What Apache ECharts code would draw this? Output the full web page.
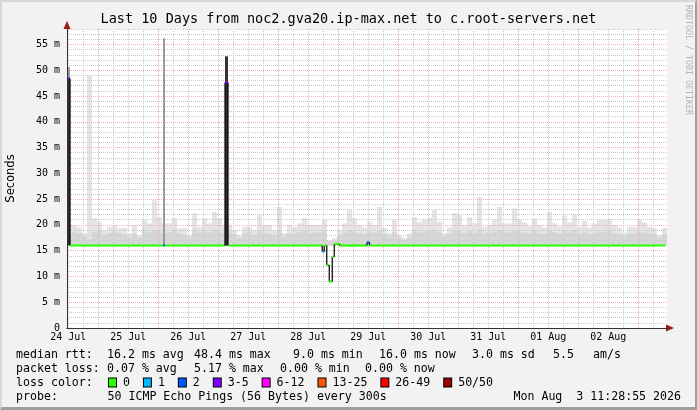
<!DOCTYPE html>
<html><head><meta charset="utf-8">
<script src="https://cdn.jsdelivr.net/npm/echarts@6/dist/echarts.min.js"></script>
<style>
html,body{margin:0;padding:0;background:#f2f2f2}
#wrap{position:relative;width:697px;height:410px}
#c{width:697px;height:410px}
#frame{position:absolute;left:0;top:0;width:697px;height:410px;box-sizing:border-box;border-top:2px solid #d8d8d8;border-left:2px solid #d8d8d8;border-right:2px solid #9e9e9e;border-bottom:3px solid #9e9e9e;pointer-events:none}
</style>
</head><body>
<div id="wrap"><div id="c"></div><div id="frame"></div></div>
<script>
// ---------- data ----------
const titleText = 'Last 10 Days from noc2.gva20.ip-max.net to c.root-servers.net';
const dayLabels = ['24 Jul','25 Jul','26 Jul','27 Jul','28 Jul','29 Jul','30 Jul','31 Jul','01 Aug','02 Aug'];
const startHourOfDay = 11.5;   // graph starts Jul 24 ~11:29
const spanHours = 240;         // 10 days
const bucketHours = 2;         // smoke resolution used here
const yMax = 58;               // ms

// smoke (ping spread) per 2-hour bucket, ms
const smokeFloor = 16.0;
const smokeTop = [
  20.0,19.9,19.5,18.4,49.0,21.3,20.6,19.0,19.6,20.0,
  19.4,19.4,18.4,20.0,18.0,21.0,20.3,24.8,21.5,20.3,
  20.3,21.3,19.4,19.4,18.0,22.3,19.6,21.3,20.3,22.5,
  21.3,20.0,20.0,19.0,18.0,19.6,19.6,19.0,21.9,20.0,
  20.0,19.0,23.5,18.4,20.0,19.6,20.3,21.3,20.0,20.0,
  20.0,21.0,17.0,17.5,19.0,20.3,22.9,21.3,20.0,19.5,
  20.6,20.0,23.5,19.4,18.4,21.0,18.0,17.5,18.4,21.5,
  20.6,21.0,21.3,22.9,20.6,18.4,19.5,22.3,21.9,20.0,
  21.5,20.3,25.4,19.6,20.0,21.0,23.5,20.3,20.3,23.2,
  21.0,20.5,19.8,21.2,20.0,19.5,22.5,20.4,19.7,21.8,
  20.5,22.0,19.6,20.8,19.5,20.2,21.0,21.0,21.2,20.0,
  19.5,18.5,19.6,19.6,21.0,20.5,19.6,19.4,18.0,19.4
];
const smokeMid = [
  18.2,18.6,18.4,17.8,17.2,18.6,18.8,18.0,18.4,18.7,
  18.5,18.2,17.6,18.3,17.5,18.9,18.6,19.0,18.8,18.4,
  18.6,19.0,18.3,18.0,17.4,18.9,18.5,18.8,18.6,19.1,
  18.7,18.4,18.5,18.2,17.5,18.4,18.6,18.1,18.9,18.5,
  18.3,18.0,18.9,17.6,18.4,18.2,18.7,18.9,18.4,18.6,
  18.5,18.8,16.8,17.0,17.9,18.5,19.0,18.7,18.4,18.2,
  18.6,18.5,18.9,18.2,17.7,18.6,17.4,17.2,17.6,18.8,
  18.5,18.7,18.8,19.1,18.6,17.8,18.2,18.9,18.8,18.4,
  18.8,18.5,19.2,18.3,18.5,18.7,19.0,18.6,18.5,18.9,
  18.7,18.5,18.3,18.8,18.4,18.2,18.9,18.6,18.3,18.8,
  18.5,18.9,18.2,18.6,18.2,18.5,18.7,18.7,18.8,18.4,
  18.2,17.8,18.3,18.3,18.7,18.5,18.3,18.2,17.5,18.2
];

// outlier columns (hours since start, ms)
const spikeStart   = [0.0, 38.4, 63.2];
const spikeEnd     = [1.2, 39.2, 64.4];
const spikeLow     = [16.0, 16.0, 16.0];
const spikeDarkTop = [48.4, 16.0, 52.7];
const spikeTop     = [50.6, 56.2, 52.7];

// median rtt segments (hours since start, ms, loss class index)
const medStart = [0.0, 1.2, 38.4, 39.2, 63.2, 64.4, 102.1, 102.9, 103.9, 104.9, 106.1, 106.9, 109.0, 120.0, 121.0];
const medEnd   = [1.2, 38.4, 39.2, 63.2, 64.4, 102.1, 102.9, 103.9, 104.9, 106.1, 106.9, 109.0, 120.0, 121.0, 239.3];
const medValue = [48.4, 16.0, 16.0, 16.0, 47.6, 16.0, 14.8, 16.0, 12.2, 9.0, 13.8, 16.3, 16.0, 16.6, 16.0];
const medLoss  = [3, 0, 2, 0, 3, 0, 1, 0, 0, 0, 0, 0, 0, 2, 0];

// legend
const lossLabels = ['0','1','2','3-5','6-12','13-25','26-49','50/50'];
const rttStats  = ['16.2 ms avg','48.4 ms max','9.0 ms min','16.0 ms now','3.0 ms sd','5.5','am/s'];
const lossStats = ['0.07 % avg','5.17 % max','0.00 % min','0.00 % now'];
const probeText = '50 ICMP Echo Pings (56 Bytes) every 300s';
const stampText = 'Mon Aug  3 11:28:55 2026';
const yLabelText = 'Seconds';
const watermark = 'RRDTOOL / TOBI OETIKER';

// ---------- styles ----------
const lossColors = ['#26ff00','#00b8ff','#0059ff','#7e00ff','#ff00ff','#ff5500','#ff0000','#a10000'];
const MONO = "'DejaVu Sans Mono', monospace";
const gridGrey = '#cacaca', gridRed = '#f0b0b0';

const slotCount = spanHours * 2 + 1;
const slots = [];
for (let i = 0; i < slotCount; i++) slots.push(String(i));
const hourOf = i => startHourOfDay + i * 0.5;

const smokeData = smokeTop.map((t, k) => [k * bucketHours, (k + 1) * bucketHours, smokeFloor, smokeMid[k], t]);
const spikeData = spikeStart.map((s, i) => [s, spikeEnd[i], spikeLow[i], spikeDarkTop[i], spikeTop[i]]);
const medData = medStart.map((s, i) => [s, medEnd[i], medValue[i], medLoss[i]]);

const dotted = {type: [1, 1]};
function catAxis(extra) {
  return Object.assign({
    type: 'category', data: slots, boundaryGap: false, position: 'bottom', gridIndex: 0,
    axisLine: {show: false}, axisTick: {show: false}, axisLabel: {show: false}, splitLine: {show: false},
    z: 2, silent: true
  }, extra);
}

const legendRowTop = [347.5, 361.5, 375.5, 389.5];
const titles = [
  {text: titleText, left: 'center', top: 11, padding: 0, textStyle: {fontFamily: MONO, fontSize: 13.5, fontWeight: 'normal', color: '#000', lineHeight: 16}}
];
function lt(text, left, row, extra) {
  titles.push(Object.assign({text, left, top: legendRowTop[row], padding: 0,
    textStyle: {fontFamily: MONO, fontSize: 11.6, fontWeight: 'normal', color: '#000', lineHeight: 14}}, extra || {}));
}
lt('median rtt:', 16, 0);
[107, 194, 293, 379, 472, 553, 593].forEach((x, i) => lt(rttStats[i], x, 0));
lt('packet loss:', 16, 1);
[107, 194, 280, 365].forEach((x, i) => lt(lossStats[i], x, 1));
lt('loss color:', 16, 2);
const rich = {};
lossColors.forEach((c, i) => { rich['b' + i] = {width: 7, height: 8, backgroundColor: c, borderColor: '#000', borderWidth: 1}; rich['t' + i] = {fontFamily: MONO, fontSize: 11.6, color: '#000'}; });
const lossLine = lossLabels.map((l, i) => '{b' + i + '| }{t' + i + '| ' + l + '}').join('{t0|  }');
titles.push({text: lossLine, left: 109, top: legendRowTop[2], padding: 0, textStyle: {fontFamily: MONO, fontSize: 11.6, fontWeight: 'normal', color: '#000', lineHeight: 14, rich}});
lt('probe:', 16, 3);
lt(probeText, 107.5, 3);
titles.push({text: stampText, right: 16, top: legendRowTop[3], padding: 0, textStyle: {fontFamily: MONO, fontSize: 11.6, fontWeight: 'normal', color: '#000', lineHeight: 14}});

const chart = echarts.init(document.getElementById('c'), null, {renderer: 'canvas'});
chart.setOption({
  animation: false,
  backgroundColor: '#f2f2f2',
  title: titles,
  grid: {left: 67, right: 30, top: 29, bottom: 82, show: true, backgroundColor: '#ffffff', borderWidth: 0,
    containLabel: false, outerBoundsMode: 'none'},
  xAxis: [
    {type: 'value', min: 0, max: spanHours, show: false, gridIndex: 0},
    // 6-hour minor grid
    catAxis({splitLine: {show: true, interval: (i) => hourOf(i) % 6 === 0 && hourOf(i) % 24 !== 0, lineStyle: {color: gridGrey, width: 1, ...dotted}}}),
    // midnight major grid
    catAxis({splitLine: {show: true, interval: (i) => hourOf(i) % 24 === 0, lineStyle: {color: gridRed, width: 1, ...dotted}}}),
    // arrow axis line
    catAxis({z: 6, axisLine: {show: true, onZero: false, symbol: ['none', 'triangle'], symbolSize: [7, 8], symbolOffset: [0, 3], lineStyle: {color: '#9a1a1a', width: 1}}}),
    // labels + black axis line
    catAxis({
      z: 7,
      axisLine: {show: true, onZero: false, lineStyle: {color: '#333', width: 1}},
      axisLabel: {show: true, interval: (i) => hourOf(i) % 24 === 12, margin: 4, fontFamily: MONO, fontSize: 10, color: '#000',
        formatter: (v, idx) => dayLabels[Math.floor(hourOf(+v) / 24)] || ''}
    })
  ],
  yAxis: [
    {type: 'value', min: 0, max: yMax, interval: 1, position: 'left', z: 2, silent: true,
      axisLine: {show: false}, axisTick: {show: false}, axisLabel: {show: false},
      splitLine: {show: true, showMinLine: false, lineStyle: {color: gridGrey, width: 1, ...dotted}}},
    {type: 'value', min: 0, max: yMax, interval: 1, position: 'left', z: 6, silent: true,
      axisLine: {show: true, onZero: false, symbol: ['none', 'triangle'], symbolSize: [7, 8], symbolOffset: [0, 4], lineStyle: {color: '#9a1a1a', width: 1}},
      axisTick: {show: false}, axisLabel: {show: false}, splitLine: {show: false}},
    {type: 'value', min: 0, max: yMax, interval: 5, position: 'left', z: 7, silent: true,
      name: yLabelText, nameLocation: 'middle', nameGap: 50, nameRotate: 90,
      nameTextStyle: {fontFamily: "'DejaVu Sans', sans-serif", fontSize: 11.5, color: '#000'},
      axisLine: {show: true, onZero: false, lineStyle: {color: '#333', width: 1}},
      axisTick: {show: false},
      axisLabel: {margin: 7, fontFamily: MONO, fontSize: 10, color: '#000',
        formatter: v => v === 0 ? '0' : (v % 5 === 0 ? v + ' m' : '')},
      splitLine: {show: false}},
    {type: 'value', min: 0, max: yMax, interval: 5, position: 'left', z: 2, silent: true,
      axisLine: {show: false}, axisTick: {show: false}, axisLabel: {show: false},
      splitLine: {show: true, showMinLine: false, showMaxLine: false, lineStyle: {color: gridRed, width: 1, ...dotted}}}
  ],
  graphic: [
    {type: 'text', x: 688, y: 5, rotation: -Math.PI / 2, silent: true,
      style: {text: watermark, fill: '#b4b4b4', font: "8.3px 'DejaVu Sans Mono', monospace", textAlign: 'left', textVerticalAlign: 'middle', verticalAlign: 'middle'}}
  ],
  series: [
    {type: 'custom', name: 'smoke', xAxisIndex: 0, yAxisIndex: 0, z: 1, silent: true, clip: true,
      encode: {x: [0, 1], y: [2, 3, 4]}, data: smokeData,
      renderItem: (params, api) => {
        const s = api.value(0), e = api.value(1), lo = api.value(2), mid = api.value(3), top = api.value(4);
        const a = api.coord([s, top]), b = api.coord([e, lo]), m = api.coord([s, mid]);
        return {type: 'group', children: [
          {type: 'rect', shape: {x: a[0], y: a[1], width: b[0] - a[0], height: b[1] - a[1]}, style: {fill: '#e4e4e4'}},
          {type: 'rect', shape: {x: a[0], y: m[1], width: b[0] - a[0], height: b[1] - m[1]}, style: {fill: '#d6d6d6'}}
        ]};
      }},
    {type: 'custom', name: 'outliers', xAxisIndex: 0, yAxisIndex: 0, z: 4, silent: true, clip: true,
      encode: {x: [0, 1], y: [2, 3, 4]}, data: spikeData,
      renderItem: (params, api) => {
        const s = api.value(0), e = api.value(1), lo = api.value(2), dk = api.value(3), top = api.value(4);
        const a = api.coord([s, top]), b = api.coord([e, lo]), d = api.coord([s, dk]);
        return {type: 'group', children: [
          {type: 'rect', shape: {x: a[0], y: a[1], width: b[0] - a[0], height: d[1] - a[1]}, style: {fill: '#9a9a9a'}},
          {type: 'rect', shape: {x: a[0], y: d[1], width: b[0] - a[0], height: b[1] - d[1]}, style: {fill: '#333333'}}
        ]};
      }},
    {type: 'custom', name: 'median', xAxisIndex: 0, yAxisIndex: 0, z: 5, silent: true, clip: true,
      encode: {x: [0, 1], y: 2}, data: medData,
      renderItem: (params, api) => {
        const s = api.value(0), e = api.value(1), v = api.value(2), loss = api.value(3);
        const a = api.coord([s, v]), b = api.coord([e, v]);
        const children = [];
        if (params.dataIndexInside > 0) {
          const pv = api.value(2, params.dataIndexInside - 1);
          const c = api.coord([s, pv]);
          if (Math.abs(c[1] - a[1]) > 1.5) children.push({type: 'line', shape: {x1: a[0], y1: c[1], x2: a[0], y2: a[1]}, style: {stroke: '#000', lineWidth: 1.2}});
        }
        children.push({type: 'rect', shape: {x: a[0], y: a[1] - 1.1, width: b[0] - a[0], height: 2.2}, style: {fill: lossColors[loss]}});
        return {type: 'group', children};
      }}
  ]
});
</script>
</body></html>
